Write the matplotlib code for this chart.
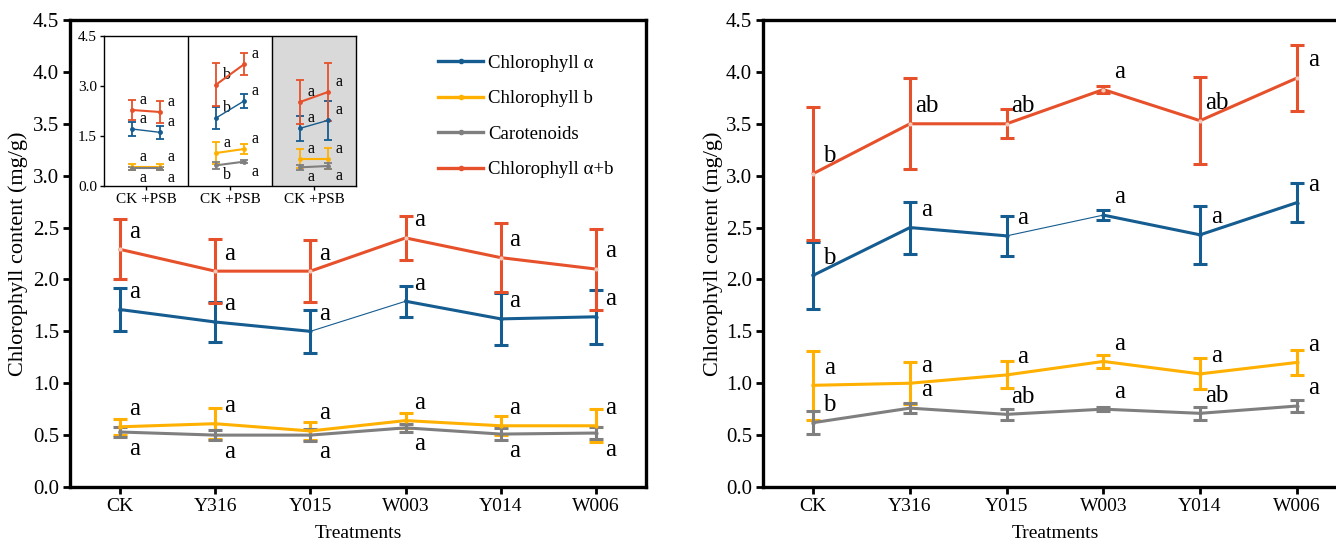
import matplotlib
matplotlib.use("Agg")
import matplotlib.pyplot as plt
import numpy as np

plt.rcParams['font.family'] = ['Liberation Serif', 'DejaVu Serif']

treatments = ["CK", "Y316", "Y015", "W003", "Y014", "W006"]
series_names = ["Chlorophyll α", "Chlorophyll b", "Carotenoids", "Chlorophyll α+b"]
colors = ["#155c90", "#ffb000", "#7f7f7f", "#e6512b"]

# left panel: means / sd
left_a = [1.71, 1.59, 1.50, 1.79, 1.62, 1.64]
left_a_err = [0.21, 0.19, 0.21, 0.15, 0.25, 0.26]
left_b = [0.58, 0.61, 0.54, 0.64, 0.59, 0.59]
left_b_err = [0.08, 0.15, 0.09, 0.07, 0.09, 0.16]
left_car = [0.53, 0.50, 0.50, 0.57, 0.51, 0.52]
left_car_err = [0.05, 0.05, 0.06, 0.04, 0.06, 0.06]
left_ab = [2.29, 2.08, 2.08, 2.40, 2.21, 2.10]
left_ab_err = [0.29, 0.31, 0.30, 0.21, 0.33, 0.39]
left_letters = [["a"] * 6, ["a"] * 6, ["a"] * 6, ["a"] * 6]

# right panel
right_a = [2.04, 2.50, 2.42, 2.62, 2.43, 2.74]
right_a_err = [0.32, 0.25, 0.19, 0.05, 0.28, 0.19]
right_b = [0.98, 1.00, 1.08, 1.21, 1.09, 1.20]
right_b_err = [0.33, 0.20, 0.13, 0.06, 0.15, 0.12]
right_car = [0.62, 0.76, 0.70, 0.75, 0.71, 0.78]
right_car_err = [0.11, 0.05, 0.05, 0.02, 0.06, 0.06]
right_ab = [3.02, 3.50, 3.50, 3.83, 3.53, 3.94]
right_ab_err = [0.64, 0.44, 0.14, 0.03, 0.42, 0.32]
right_letters = [["b", "a", "a", "a", "a", "a"],
                 ["a", "a", "a", "a", "a", "a"],
                 ["b", "a", "ab", "a", "ab", "a"],
                 ["b", "ab", "ab", "a", "ab", "a"]]

# inset: three groups, CK vs +PSB
inset_labels = ["CK +PSB", "CK +PSB", "CK +PSB"]
inset_a = [[1.71, 1.61], [2.04, 2.55], [1.73, 1.97]]
inset_a_err = [[0.20, 0.20], [0.32, 0.22], [0.38, 0.58]]
inset_b = [[0.57, 0.57], [0.99, 1.11], [0.82, 0.82]]
inset_b_err = [[0.08, 0.09], [0.32, 0.14], [0.28, 0.32]]
inset_car = [[0.53, 0.53], [0.62, 0.73], [0.56, 0.60]]
inset_car_err = [[0.05, 0.05], [0.10, 0.04], [0.08, 0.10]]
inset_ab = [[2.28, 2.22], [3.04, 3.65], [2.52, 2.82]]
inset_ab_err = [[0.29, 0.32], [0.64, 0.33], [0.67, 0.86]]
inset_letters = [
    [["a", "a"], ["b", "a"], ["a", "a"]],
    [["a", "a"], ["a", "a"], ["a", "a"]],
    [["a", "a"], ["b", "a"], ["a", "a"]],
    [["a", "a"], ["b", "a"], ["a", "a"]],
]

W, H = 1336, 545
fig = plt.figure(figsize=(W / 100, H / 100), dpi=100)


def px_axes(x0, y0, x1, y1):
    return fig.add_axes([x0 / W, 1 - y1 / H, (x1 - x0) / W, (y1 - y0) / H])


def draw_series(ax, x, y, err, color, thin_seg=False):
    x = np.asarray(x)
    y = np.asarray(y)
    ax.errorbar(x, y, yerr=err, fmt='none', ecolor=color, elinewidth=2.2,
                capsize=4.8, capthick=2.2, zorder=3)
    if thin_seg:
        ax.plot(x[:3], y[:3], color=color, lw=2.2, zorder=4)
        ax.plot(x[2:4], y[2:4], color=color, lw=0.8, zorder=4)
        ax.plot(x[3:], y[3:], color=color, lw=2.2, zorder=4)
    else:
        ax.plot(x, y, color=color, lw=2.2, zorder=4)
    ax.plot(x, y, 'o', color=color, ms=3, mfc='#f4c8b8' if color == colors[3] else color,
            mec='none', zorder=5)


def style_main(ax, xlim):
    ax.set_xlim(*xlim)
    ax.set_ylim(0, 4.5)
    ax.set_yticks(np.arange(0, 4.51, 0.5))
    ax.set_yticklabels([f"{v:.1f}" for v in np.arange(0, 4.51, 0.5)])
    ax.set_xticks(range(len(treatments)))
    ax.set_xticklabels(treatments)
    for s in ax.spines.values():
        s.set_linewidth(2.4)
    ax.tick_params(axis='both', direction='out', width=2, length=5, pad=3)
    ax.tick_params(axis='y', labelsize=15)
    ax.tick_params(axis='x', labelsize=14)
    ax.set_ylabel("Chlorophyll content (mg/g)", fontsize=16)
    ax.set_xlabel("Treatments", fontsize=14, labelpad=7)


# ---- left panel ----
axL = px_axes(70, 20, 646, 487)
xs = np.arange(6)
left_vals = [left_a, left_b, left_car, left_ab]
left_errs = [left_a_err, left_b_err, left_car_err, left_ab_err]
handles = []
for k in range(4):
    draw_series(axL, xs, left_vals[k], left_errs[k], colors[k], thin_seg=(k == 0))
    h, = axL.plot([], [], color=colors[k], lw=2.4, marker='o', ms=3)
    handles.append(h)
for k in range(4):
    for i in range(6):
        if k == 2:
            ty = left_vals[k][i] - 0.16
        else:
            ty = left_vals[k][i] + 0.17
        axL.text(i + 0.15, ty, left_letters[k][i], fontsize=18, ha='center', va='center')
style_main(axL, (-0.525, 5.525))
axL.yaxis.set_label_coords(-0.073, 0.5)
axL.legend(handles, series_names, loc='upper left', bbox_to_anchor=(0.61, 0.962),
           frameon=False, fontsize=13.5, handlelength=2.4, labelspacing=0.98,
           handletextpad=0.27)

# ---- inset ----
axI = px_axes(104, 36, 356, 186)
inset_vals = [inset_a, inset_b, inset_car, inset_ab]
inset_errs = [inset_a_err, inset_b_err, inset_car_err, inset_ab_err]
axI.axvspan(6, 9, color='#d9d9d9', zorder=0)
axI.axvline(3, color='black', lw=1)
axI.axvline(6, color='black', lw=1)
for k in range(4):
    for g in range(3):
        gx = [3 * g + 1, 3 * g + 2]
        gy = inset_vals[k][g]
        axI.errorbar(gx, gy, yerr=inset_errs[k][g], fmt='none', ecolor=colors[k],
                     elinewidth=1.3, capsize=3, capthick=1.3, zorder=3)
        axI.plot(gx, gy, color=colors[k], lw=1.5 if k != 0 else 1.0, zorder=4)
        axI.plot(gx, gy, 'o', color=colors[k], ms=3.5, mec='none', zorder=5)
        for j in range(2):
            ty = gy[j] - 0.3 if k == 2 else gy[j] + 0.3
            axI.text(gx[j] + 0.38, ty, inset_letters[k][g][j], fontsize=11.5,
                     ha='center', va='center')
axI.set_xlim(0, 9)
axI.set_ylim(0, 4.5)
axI.set_yticks([0, 1.5, 3.0, 4.5])
axI.set_yticklabels(["0.0", "1.5", "3.0", "4.5"])
axI.set_xticks([1.5, 4.5, 7.5])
axI.set_xticklabels(inset_labels)
for s in axI.spines.values():
    s.set_linewidth(1)
axI.tick_params(axis='both', direction='out', width=1, length=3, labelsize=11, pad=2)

# ---- right panel ----
axR = px_axes(763, 20, 1347, 487)
right_vals = [right_a, right_b, right_car, right_ab]
right_errs = [right_a_err, right_b_err, right_car_err, right_ab_err]
for k in range(4):
    draw_series(axR, xs, right_vals[k], right_errs[k], colors[k], thin_seg=(k == 0))
for k in range(4):
    for i in range(6):
        axR.text(i + 0.17, right_vals[k][i] + 0.17, right_letters[k][i], fontsize=18,
                 ha='center', va='center')
style_main(axR, (-0.52, 5.52))
axR.yaxis.set_label_coords(-0.068, 0.5)

fig.savefig("out.png", dpi=100)
